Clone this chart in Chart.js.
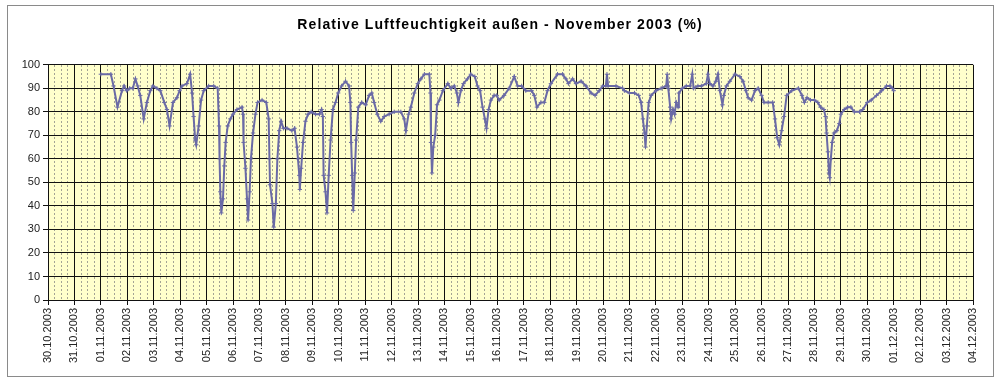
<!DOCTYPE html>
<html>
<head>
<meta charset="utf-8">
<script src="https://cdn.jsdelivr.net/npm/chart.js@4.4.1/dist/chart.umd.min.js"></script>
<style>
html,body{margin:0;padding:0;background:#fff;}
canvas{display:block;}
</style>
</head>
<body>
<canvas id="c" width="1000" height="382"></canvas>
<script>
// X tick labels (one per day, axis runs 30.10.2003 .. 04.12.2003)
const tickLabels = ['30.10.2003','31.10.2003','01.11.2003','02.11.2003','03.11.2003','04.11.2003','05.11.2003','06.11.2003','07.11.2003','08.11.2003','09.11.2003','10.11.2003','11.11.2003','12.11.2003','13.11.2003','14.11.2003','15.11.2003','16.11.2003','17.11.2003','18.11.2003','19.11.2003','20.11.2003','21.11.2003','22.11.2003','23.11.2003','24.11.2003','25.11.2003','26.11.2003','27.11.2003','28.11.2003','29.11.2003','30.11.2003','01.12.2003','02.12.2003','03.12.2003','04.12.2003'];
const yTicks = [0,10,20,30,40,50,60,70,80,90,100];
// Measurement time: hours since 01.11.2003 00:00
const hours = [0,9.1,11.5,15.1,19.2,21.1,23.5,26.2,29.0,31.4,33.4,35.8,38.9,41.8,44.9,47.3,50.9,54.0,57.6,60.0,62.4,65.5,69.1,71.5,73.7,78.2,81.1,82.8,84.2,85.7,86.6,88.8,91.0,93.4,97.9,102.5,106.1,107.3,107.8,108.5,109.4,110.9,112.1,113.3,115.2,117.6,120.0,123.6,128.2,129.1,129.6,131.3,132.7,133.7,135.1,136.3,138.2,140.4,142.3,146.4,150.2,152.4,153.1,153.6,155.8,157.0,158.9,160.3,162.0,163.7,165.8,169.0,173.5,175.9,178.1,179.0,180.2,180.7,181.9,183.6,185.8,188.2,191.0,194.9,198.5,200.4,201.6,202.3,204.0,205.4,206.9,208.6,210.7,213.1,215.5,218.6,222.2,225.4,226.6,227.3,228.2,229.2,230.6,231.8,233.8,236.9,240.5,243.6,246.0,248.2,251.0,254.2,257.3,261.8,266.4,272.4,275.5,277.0,279.4,281.5,284.6,287.8,290.6,293.8,298.3,299.3,299.8,300.7,301.9,303.6,305.3,307.4,310.6,315.1,317.8,320.9,323.3,324.7,326.9,329.3,332.9,336.0,339.6,342.0,344.4,346.6,348.7,350.2,352.1,354.2,357.1,359.5,361.7,366.2,370.8,375.4,378.5,382.1,385.9,391.2,393.6,396.0,399.6,402.7,405.6,408.7,414.7,419.3,422.4,424.6,428.4,431.5,436.1,440.6,445.2,448.8,452.6,455.8,458.6,459.6,460.6,467.8,473.8,475.4,480.0,484.6,488.4,490.6,492.2,493.7,494.6,495.8,497.5,499.7,504.2,508.8,513.4,514.3,515.3,517.0,517.9,519.6,521.0,522.5,524.2,524.9,528.0,531.6,535.2,537.1,538.3,542.2,545.3,549.8,551.3,553.0,555.8,558.5,560.4,562.1,564.5,565.7,568.1,571.2,575.8,580.3,583.2,585.8,587.8,590.9,594.0,596.9,600.0,602.2,606.0,610.1,612.2,614.2,616.1,618.2,620.4,622.8,627.4,633.4,636.7,638.9,641.3,644.4,648.0,651.1,653.5,656.6,658.1,659.0,660.2,661.2,661.9,662.9,664.1,665.8,668.4,670.6,672.0,675.1,678.2,681.1,684.2,689.0,691.9,696.0,699.6,704.4,709.0,713.5,716.6,718.8,720.0];
// Relative humidity (%)
const humidity = [96,96,91,82,89,91,89,90,90,94,91,87,77,84,89,91,90,89,84,81,74,84,86,89,91,92,96,88,78,68,66,74,85,89,91,91,90,74,60,46,37,43,57,67,74,77,79,81,82,79,67,56,43,34,46,60,71,79,84,85,84,77,60,49,41,31,41,60,72,76,73,73,72,73,65,60,53,47,56,67,76,79,80,79,79,81,78,53,46,37,53,68,81,84,88,91,93,91,84,67,53,38,54,68,82,84,83,87,88,84,79,76,78,79,80,80,77,72,79,82,88,92,94,96,96,88,67,54,65,70,83,85,89,92,90,91,88,84,89,92,94,96,95,91,89,82,77,73,81,85,87,87,85,87,90,95,91,91,89,89,87,82,84,84,89,92,96,96,94,92,94,92,93,91,88,87,89,91,91,96,91,91,90,89,88,88,87,84,77,71,65,74,84,87,89,90,91,96,90,82,77,81,79,84,82,88,90,91,91,96,90,91,91,92,96,92,91,93,96,89,83,87,91,93,96,95,93,89,86,85,89,90,87,84,84,84,77,69,66,72,78,87,89,90,87,84,86,85,85,84,82,81,78,71,63,54,52,60,67,71,72,75,79,81,82,82,80,80,81,84,85,87,89,91,91,90,89];

const START_DAY = 2; // 01.11.2003 is day 2 on an axis that starts at 30.10.2003
const points = hours.map((h, i) => ({x: START_DAY + h / 24, y: humidity[i]}));

const frame = {
  id: 'frame',
  afterLayout(chart) {
    const tb = chart.titleBlock;
    if (tb && !tb._spaced) {
      const orig = tb.draw.bind(tb);
      tb.draw = function () {
        const ctx = chart.ctx;
        ctx.save();
        // centre the title on the whole picture, not only on the padded box
        ctx.translate((chart.width - (tb.left + tb.right)) / 2, 0);
        if ('letterSpacing' in ctx) ctx.letterSpacing = '1.1px';
        orig();
        ctx.restore();
      };
      tb._spaced = true;
    }
  },
  beforeDraw(chart) {
    const {ctx, chartArea: a} = chart;
    ctx.save();
    ctx.fillStyle = '#ffffff';
    ctx.fillRect(0, 0, chart.width, chart.height);
    ctx.strokeStyle = '#8a8a8a';
    ctx.lineWidth = 1;
    ctx.strokeRect(7.5, 5.5, 986, 371);
    ctx.fillStyle = '#ffffcc';
    ctx.fillRect(a.left, a.top, a.right - a.left, a.bottom - a.top);
    ctx.restore();
  }
};

new Chart(document.getElementById('c'), {
  type: 'line',
  data: {
    datasets: [{
      label: 'Relative Luftfeuchtigkeit außen',
      data: points,
      borderColor: '#6a6aa6',
      borderWidth: 2,
      pointStyle: 'cross',
      pointRadius: 2.2,
      pointBorderWidth: 1,
      pointBorderColor: '#6a6aa6',
      pointBackgroundColor: '#6a6aa6',
      tension: 0
    }]
  },
  options: {
    responsive: false,
    animation: false,
    devicePixelRatio: 1,
    layout: {padding: {left: 0, right: 27, top: 8, bottom: 10}},
    plugins: {
      legend: {display: false},
      tooltip: {enabled: false},
      title: {
        display: true,
        text: 'Relative Luftfeuchtigkeit außen - November 2003 (%)',
        color: '#000',
        font: {family: "'Liberation Sans', Arial, sans-serif", size: 14, weight: 'bold'},
        padding: {top: 9, bottom: 31}
      }
    },
    scales: {
      xMinor: {
        type: 'linear',
        position: 'top',
        min: 0, max: tickLabels.length - 1,
        afterFit(s) { s.height = 0; },
        ticks: {display: false, stepSize: 0.25},
        grid: {
          drawTicks: false,
          lineWidth: 1,
          color: ctx => (Math.abs(ctx.tick.value - Math.round(ctx.tick.value)) < 1e-6 ? 'rgba(0,0,0,0)' : '#a3a394')
        },
        border: {display: false, dash: [2, 2]}
      },
      x: {
        type: 'linear',
        position: 'bottom',
        min: 0, max: tickLabels.length - 1,
        afterFit(s) { s.height = 72; },
        ticks: {
          stepSize: 1,
          autoSkip: false,
          maxRotation: 90, minRotation: 90,
          padding: 3,
          color: '#222',
          font: {family: "'Liberation Sans', Arial, sans-serif", size: 11},
          callback: v => tickLabels[Math.round(v)]
        },
        grid: {color: '#111', lineWidth: 1, tickLength: 5, tickColor: '#111'},
        border: {color: '#111', width: 1}
      },
      y: {
        min: yTicks[0], max: yTicks[yTicks.length - 1],
        afterFit(s) { s.width = 48; },
        afterBuildTicks(s) { s.ticks = yTicks.map(v => ({value: v})); },
        ticks: {
          stepSize: 10,
          padding: 3,
          color: '#222',
          font: {family: "'Liberation Sans', Arial, sans-serif", size: 11}
        },
        grid: {color: '#111', lineWidth: 1, tickLength: 5, tickColor: '#111'},
        border: {color: '#111', width: 1}
      }
    }
  },
  plugins: [frame]
});
</script>
</body>
</html>
